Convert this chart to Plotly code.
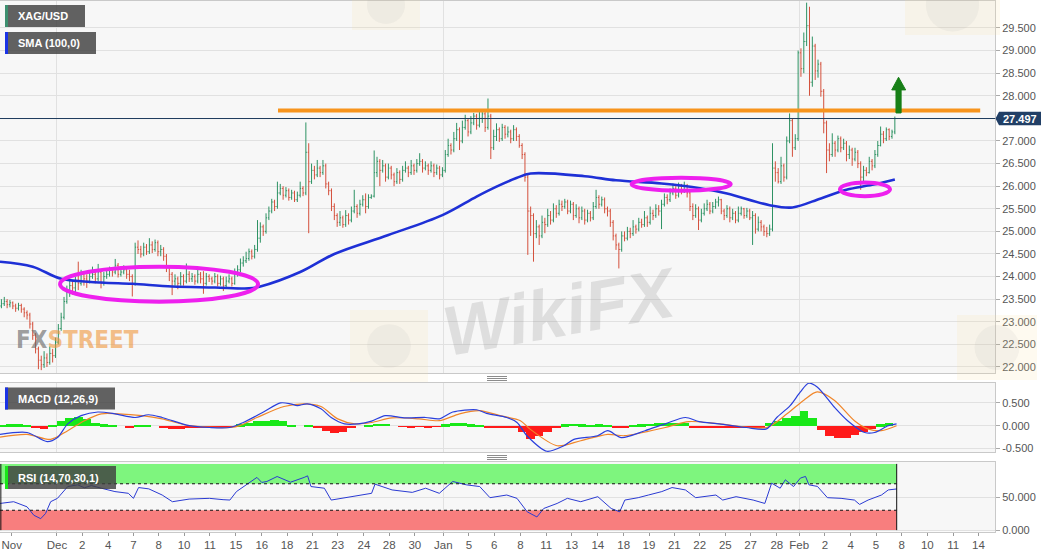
import plotly.graph_objects as go

# ---------------- data ----------------
close = [
    23.40, 23.45, 23.38, 23.42, 23.35, 23.30, 23.36, 23.28, 23.20, 23.15,
    22.95, 22.70, 22.40, 22.15, 22.05, 22.20, 22.10, 22.30, 22.25, 22.55,
    22.85, 23.10, 23.45, 23.65, 23.80, 23.75, 23.90, 23.85, 24.05, 23.95,
    23.90, 24.00, 24.05, 23.95, 24.10, 23.85, 24.00, 24.05, 24.15, 24.10,
    24.25, 24.05, 24.10, 24.15, 24.05, 24.00, 23.85, 24.65, 24.60, 24.50,
    24.65, 24.55, 24.70, 24.60, 24.75, 24.55, 24.60, 24.45, 24.20, 24.05,
    23.90, 23.95, 23.85, 24.00, 23.90, 24.05, 23.95, 24.00, 23.90, 24.05,
    23.95, 23.85, 24.00, 23.95, 23.90, 24.00, 23.85, 23.95, 23.80, 23.90,
    23.95, 23.85, 24.05, 24.15, 24.30, 24.35, 24.40, 24.55, 24.45, 24.60,
    24.85, 25.10, 25.00, 25.30, 25.45, 25.65, 25.55, 25.85, 25.95, 25.80,
    25.90, 25.75, 25.85, 25.70, 25.80, 25.95, 25.85, 26.75, 26.10, 26.35,
    26.25, 26.40, 26.30, 26.45, 26.05, 25.90, 25.55, 25.35, 25.20, 25.30,
    25.15, 25.35, 25.25, 25.45, 25.55, 25.40, 25.60, 25.70, 25.55, 25.75,
    25.78, 26.30, 26.55, 26.35, 26.45, 26.20, 26.40, 26.25, 26.10, 26.30,
    26.15, 26.35, 26.40, 26.30, 26.45, 26.35, 26.50, 26.55, 26.40, 26.45,
    26.35, 26.45, 26.30, 26.40, 26.25, 26.35, 26.70, 26.90, 26.80, 27.05,
    27.25, 27.00, 27.30, 27.45, 27.20, 27.40, 27.55, 27.35, 27.50, 27.60,
    27.30, 27.55, 26.85, 27.10, 27.25, 27.05, 27.30, 27.15, 27.20, 27.05,
    27.25, 27.10, 26.90, 26.70, 26.20, 25.45, 25.35, 24.95, 25.10, 24.90,
    25.20, 25.15, 25.35, 25.25, 25.50, 25.40, 25.60, 25.55, 25.65, 25.45,
    25.60, 25.35, 25.50, 25.30, 25.45, 25.25, 25.40, 25.30, 25.55, 25.75,
    25.60, 25.70, 25.50, 25.45, 25.20, 24.90, 24.70, 24.60, 24.90, 24.85,
    25.00, 24.95, 25.10, 25.05, 25.20, 25.15, 25.30, 25.20, 25.40, 25.35,
    25.50, 25.45, 25.60, 25.75, 25.70, 25.85, 25.95, 25.80, 26.00, 25.90,
    26.00, 25.85, 25.55, 25.35, 25.50, 25.25, 25.40, 25.50, 25.60, 25.45,
    25.55, 25.65, 25.70, 25.45, 25.35, 25.50, 25.30, 25.40, 25.25, 25.40,
    25.50, 25.35, 25.45, 25.30, 25.35, 25.05, 25.20, 25.10, 25.00, 24.95,
    25.05, 26.40, 26.30, 26.10, 26.45, 26.20, 27.00, 27.45, 26.85, 27.05,
    28.95, 28.60, 29.20, 29.55, 28.30, 29.10, 28.55, 28.70, 28.10, 27.40,
    26.80, 26.70, 26.95, 26.80, 27.05, 26.85, 26.95, 26.70, 26.80, 26.60,
    26.75, 26.50, 26.20, 26.35, 26.30, 26.55, 26.45, 26.70, 26.90, 27.15,
    27.05, 27.25, 27.10, 27.20, 27.497,
]
high = [
    23.50, 23.55, 23.50, 23.48, 23.45, 23.40, 23.42, 23.40, 23.32, 23.25,
    23.20, 23.00, 22.75, 22.45, 22.25, 22.35, 22.30, 22.45, 22.40, 22.65,
    22.95, 23.20, 23.55, 23.80, 23.95, 23.90, 24.00, 24.33, 24.15, 24.10,
    24.05, 24.10, 24.22, 24.10, 24.28, 24.15, 24.10, 24.15, 24.22, 24.20,
    24.39, 24.30, 24.18, 24.25, 24.20, 24.15, 24.05, 24.75, 24.80, 24.68,
    24.75, 24.72, 24.85, 24.78, 24.82, 24.80, 24.70, 24.65, 24.50, 24.25,
    24.10, 24.05, 24.00, 24.10, 24.05, 24.29, 24.12, 24.08, 24.05, 24.15,
    24.10, 24.12, 24.08, 24.05, 24.00, 24.08, 24.05, 24.02, 24.00, 24.00,
    24.05, 24.00, 24.18, 24.25, 24.40, 24.45, 24.55, 24.62, 24.60, 24.70,
    25.25, 25.20, 25.15, 25.40, 25.55, 25.72, 25.70, 26.10, 26.05, 26.00,
    25.98, 25.95, 25.92, 25.90, 25.88, 26.10, 26.00, 27.41, 26.95, 26.50,
    26.45, 26.58, 26.45, 26.58, 26.50, 26.10, 25.95, 25.62, 25.40, 25.45,
    25.35, 25.47, 25.40, 25.55, 25.92, 25.60, 25.70, 25.80, 25.84, 25.82,
    25.82, 26.79, 26.65, 26.60, 26.58, 26.50, 26.50, 26.45, 26.30, 26.40,
    26.35, 26.45, 26.55, 26.45, 26.58, 26.50, 26.60, 26.73, 26.60, 26.55,
    26.50, 26.55, 26.50, 26.48, 26.45, 26.42, 26.80, 27.05, 26.95, 27.20,
    27.40, 27.30, 27.45, 27.58, 27.50, 27.55, 27.62, 27.60, 27.65, 27.68,
    27.65, 27.94, 27.60, 27.25, 27.39, 27.30, 27.38, 27.35, 27.32, 27.25,
    27.35, 27.30, 27.15, 26.95, 26.75, 26.25, 25.55, 25.40, 25.25, 25.15,
    25.35, 25.30, 25.50, 25.45, 25.62, 25.58, 25.70, 25.68, 25.72, 25.70,
    25.68, 25.65, 25.60, 25.55, 25.55, 25.50, 25.48, 25.45, 25.65, 25.92,
    25.80, 25.77, 25.75, 25.55, 25.50, 25.25, 24.95, 24.75, 25.00, 25.00,
    25.10, 25.08, 25.25, 25.15, 25.30, 25.28, 25.45, 25.35, 25.55, 25.48,
    25.60, 25.58, 25.70, 25.84, 25.82, 25.95, 26.06, 26.00, 26.08, 26.05,
    26.10, 26.05, 25.90, 25.62, 25.60, 25.55, 25.50, 25.62, 25.70, 25.65,
    25.65, 25.72, 25.77, 25.72, 25.50, 25.58, 25.55, 25.50, 25.45, 25.55,
    25.55, 25.52, 25.52, 25.50, 25.45, 25.40, 25.33, 25.25, 25.15, 25.10,
    25.15, 26.95, 26.55, 26.40, 26.65, 26.50, 27.10, 27.61, 27.50, 27.15,
    29.00, 29.05, 29.40, 30.06, 29.97, 29.31, 29.15, 28.80, 28.75, 28.15,
    27.45, 26.95, 27.17, 27.00, 27.12, 27.10, 27.05, 27.00, 26.90, 26.85,
    26.85, 26.80, 26.55, 26.45, 26.42, 26.65, 26.60, 26.80, 27.00, 27.32,
    27.22, 27.30, 27.28, 27.25, 27.54,
]
low = [
    23.30, 23.35, 23.30, 23.32, 23.28, 23.22, 23.25, 23.20, 23.10, 23.05,
    22.85, 22.60, 22.30, 21.95, 21.93, 21.98, 22.00, 22.05, 22.10, 22.20,
    22.50, 22.80, 23.05, 23.40, 23.55, 23.60, 23.65, 23.70, 23.80, 23.80,
    23.75, 23.85, 23.95, 23.85, 23.90, 23.74, 23.80, 23.95, 24.00, 24.00,
    24.05, 23.98, 24.00, 24.05, 23.95, 23.90, 23.56, 23.80, 24.50, 24.42,
    24.45, 24.48, 24.50, 24.52, 24.55, 24.45, 24.45, 24.35, 24.10, 23.90,
    23.59, 23.80, 23.72, 23.80, 23.80, 23.85, 23.88, 23.88, 23.82, 23.85,
    23.85, 23.62, 23.80, 23.88, 23.82, 23.85, 23.78, 23.80, 23.68, 23.75,
    23.85, 23.78, 23.82, 24.00, 24.10, 24.22, 24.30, 24.35, 24.38, 24.40,
    24.55, 24.75, 24.90, 24.95, 25.25, 25.40, 25.45, 25.50, 25.80, 25.70,
    25.75, 25.68, 25.70, 25.65, 25.65, 25.75, 25.78, 25.80, 24.96, 26.05,
    26.15, 26.20, 26.20, 26.25, 25.95, 25.80, 25.45, 25.25, 25.10, 25.12,
    25.08, 25.10, 25.15, 25.20, 25.40, 25.30, 25.35, 25.55, 25.40, 25.50,
    25.72, 25.75, 26.20, 26.00, 26.30, 26.10, 26.15, 26.15, 26.00, 26.05,
    26.05, 26.10, 26.30, 26.20, 26.25, 26.25, 26.30, 26.45, 26.30, 26.35,
    26.25, 26.30, 26.20, 26.25, 26.15, 26.20, 26.30, 26.65, 26.70, 26.75,
    27.00, 26.80, 26.95, 27.25, 27.10, 27.15, 27.35, 27.25, 27.30, 27.40,
    27.20, 27.25, 26.60, 26.80, 27.00, 26.98, 27.00, 27.05, 27.08, 26.95,
    27.00, 27.00, 26.85, 26.60, 26.10, 24.48, 24.90, 24.33, 24.85, 24.70,
    24.85, 24.96, 25.10, 25.15, 25.20, 25.30, 25.35, 25.45, 25.50, 25.38,
    25.40, 25.25, 25.30, 25.18, 25.25, 25.15, 25.20, 25.22, 25.25, 25.50,
    25.50, 25.55, 25.40, 25.33, 25.10, 24.80, 24.59, 24.18, 24.55, 24.78,
    24.80, 24.85, 24.90, 24.95, 25.00, 25.08, 25.10, 25.10, 25.15, 25.25,
    25.30, 25.35, 25.05, 25.55, 25.60, 25.65, 25.80, 25.72, 25.75, 25.82,
    25.85, 25.75, 25.45, 25.25, 25.30, 25.03, 25.20, 25.35, 25.45, 25.38,
    25.40, 25.50, 25.55, 25.38, 25.25, 25.30, 25.20, 25.25, 25.18, 25.20,
    25.35, 25.28, 25.30, 25.25, 24.70, 24.95, 25.00, 25.00, 24.90, 24.87,
    24.90, 25.00, 26.10, 26.06, 26.05, 26.10, 26.15, 26.95, 26.65, 26.80,
    27.00, 28.42, 28.50, 29.10, 28.00, 28.20, 28.35, 28.40, 27.98, 27.17,
    26.29, 26.55, 26.65, 26.65, 26.75, 26.75, 26.80, 26.55, 26.60, 26.45,
    26.55, 26.40, 25.92, 26.10, 26.22, 26.28, 26.35, 26.40, 26.65, 26.88,
    26.95, 27.00, 27.02, 27.05, 27.15,
]
first_open = 23.35

sma_x = [-0.5, 11, 21, 35, 46, 60, 75, 87, 91, 105, 117, 136, 155, 167, 174,
         181, 186, 205, 216, 232, 246, 255, 270, 278, 288, 297, 306, 314]
sma_v = [24.33, 24.22, 23.95, 23.87, 23.84, 23.78, 23.76, 23.74, 23.78, 24.10,
         24.50, 24.92, 25.36, 25.77, 25.99, 26.18, 26.28, 26.22, 26.13, 26.06,
         25.95, 25.84, 25.58, 25.53, 25.73, 25.92, 26.03, 26.15]

macd_x = [-0.5, 9, 16.1, 19.7, 23.3, 28, 33.9, 39.9, 47, 51.7, 56.5, 66, 73.1,
          80.2, 85, 92.1, 98.1, 101.6, 104, 107.5, 112.3, 115.9, 120.6, 125.4,
          130.1, 134.9, 142, 149.1, 153.9, 158.6, 167, 170.5, 177.6, 181.2,
          184.7, 191.7, 197.7, 201.2, 209.5, 213.1, 217.9, 226.2, 233.3, 240.4,
          245.2, 252.3, 261.8, 268.9, 272.5, 277.2, 280.8, 283.7, 286.7, 292.7,
          297.4, 303.4, 306.9, 311.7, 314.6]
macd_v = [-0.19, -0.15, -0.35, -0.26, 0.04, 0.22, 0.30, 0.26, 0.18, 0.24, 0.18,
          0.0, -0.04, -0.04, 0.07, 0.30, 0.50, 0.48, 0.44, 0.48, 0.37, 0.18,
          0.04, 0.04, 0.10, 0.22, 0.17, 0.18, 0.15, 0.30, 0.35, 0.27, 0.18,
          0.07, -0.22, -0.56, -0.44, -0.30, -0.22, -0.11, -0.26, -0.11, 0.04,
          0.18, 0.09, 0.04, -0.04, -0.07, 0.18, 0.44, 0.74, 0.93, 0.85, 0.41,
          0.11, -0.15, -0.15, 0.0, 0.04]
sig_x = [-0.5, 9, 17.3, 23.3, 29.2, 35.1, 41.1, 49.4, 56.5, 66, 82.6, 89.8,
         99.3, 106.4, 112.3, 118.2, 124.2, 130.1, 137.2, 146.7, 153.9, 161,
         168.1, 175.2, 182.4, 185.7, 195.3, 203.6, 213.1, 219, 233.3, 241.6,
         252.3, 268.9, 276.1, 282, 286.7, 292.7, 299.8, 304.5, 309.3, 314.6]
sig_v = [-0.25, -0.19, -0.30, -0.11, 0.11, 0.26, 0.26, 0.22, 0.15, 0.0, -0.02,
         0.18, 0.42, 0.48, 0.42, 0.15, 0.04, 0.07, 0.17, 0.15, 0.11, 0.26, 0.33,
         0.22, 0.11, -0.07, -0.44, -0.33, -0.19, -0.22, -0.04, 0.09, 0.04,
         -0.04, 0.26, 0.56, 0.74, 0.56, 0.11, -0.07, -0.11, 0.0]
# histogram, one value every 3 bars
hist_v = [0.03, 0.04, 0.04, 0.02, -0.05, -0.07, 0.02, 0.12, 0.19, 0.20,
          0.15, 0.08, 0.04, 0.02, 0.00, -0.04, 0.02, 0.03, 0.00, -0.04,
          -0.07, -0.06, -0.03, -0.02, -0.02, -0.02, -0.01, -0.01, 0.04, 0.08,
          0.11, 0.12, 0.14, 0.12, 0.03, 0.00, 0.02, -0.03, -0.10, -0.14,
          -0.12, -0.05, 0.00, 0.03, 0.05, 0.05, 0.00, -0.01, -0.02, -0.01,
          -0.02, -0.01, 0.04, 0.07, 0.06, 0.04, 0.02, -0.03, -0.04, -0.04,
          -0.04, -0.12, -0.28, -0.22, -0.12, -0.03, 0.04, 0.05, 0.04, 0.03,
          0.04, 0.02, -0.04, -0.04, 0.02, 0.04, 0.05, 0.06, 0.07, 0.08,
          0.07, -0.02, -0.03, -0.03, -0.02, -0.02, -0.02, -0.02, -0.02, -0.02,
          0.08, 0.12, 0.17, 0.22, 0.33, 0.18, -0.08, -0.22, -0.26, -0.25,
          -0.20, -0.13, -0.06, 0.04, 0.07]
hist_step = 3

rsi_x = [-0.5, 4.3, 9, 11.4, 13.8, 15.5, 17.3, 19.7, 23.3, 26.8, 29.2, 31.6,
         35.1, 39.9, 44.6, 46.4, 48.2, 51.8, 56.5, 60.1, 66, 73.1, 77.9, 80.3,
         82.6, 86.2, 89.8, 91.5, 93.3, 96.9, 101.6, 106.4, 107.6, 108.8, 113.5,
         115.9, 123, 130.1, 131.3, 137.3, 144.4, 149.1, 153.9, 158.6, 163.4,
         168.1, 171.7, 177.6, 181.2, 184.8, 188.2, 190.6, 195.3, 198.9, 203.6,
         209.6, 214.3, 217.3, 219.1, 223.8, 227.4, 232.1, 235.7, 240.4, 244,
         251.1, 253.5, 258.2, 264.2, 268.3, 270.7, 273.7, 275.5, 278.4, 280.8,
         282.6, 283.8, 286.8, 290.3, 295.1, 299.8, 301.6, 304.6, 309.3, 311.7,
         314.7]
rsi_v = [40.3, 42.9, 35.2, 22.4, 17.3, 25, 42.9, 48, 65.8, 68.4, 64, 67.3,
         63.3, 58.2, 55.6, 48, 64.3, 62.3, 53, 42.9, 46.9, 48, 46, 45.4, 58.2,
         68.4, 79.6, 72, 73.5, 81, 72.4, 79.6, 82, 65.8, 63.3, 45.4, 50.5, 55.6,
         69.4, 60.7, 57, 63.3, 55.6, 73.5, 68.4, 65.8, 49, 53, 48, 27.6, 19.9,
         32.7, 40.3, 48, 42.9, 50.5, 32.7, 27.6, 45.4, 49, 53, 58.2, 64.3, 60.7,
         49, 53, 45.4, 50.5, 45.4, 40.3, 70.9, 63.3, 76, 65.8, 78.6, 81.1, 68.4,
         66, 49, 48, 45.4, 38.8, 45.4, 53, 60.7, 62.2]

tick_pos = [3.6, 19.5, 28.4, 37.5, 46.4, 55.3, 64.2, 73.3, 82.4, 91.5, 100.4,
            109.3, 118.2, 127.4, 136.3, 145.3, 155.3, 164.3, 173.2, 182.4,
            191.5, 200.4, 209.6, 218.7, 227.6, 236.5, 245.4, 254.4, 263.3,
            272.5, 280.4, 289.4, 298.5, 307.4, 316.4, 325.4, 334.5, 343.4]
tick_text = ["Nov", "Dec", "2", "4", "7", "8", "10", "11", "15", "16", "18",
             "21", "23", "24", "28", "30", "Jan", "5", "6", "8", "11", "13",
             "14", "18", "19", "21", "22", "25", "27", "28", "Feb", "2", "4",
             "5", "8", "10", "11", "14"]
month_pos = [19.5, 155.3, 280.4]

price_ticks = [22.0, 22.5, 23.0, 23.5, 24.0, 24.5, 25.0, 25.5, 26.0, 26.5,
               27.0, 27.5, 28.0, 28.5, 29.0, 29.5]
macd_ticks = [-0.5, 0.0, 0.5]
rsi_ticks = [0, 50]

resistance_level = 27.675
last_price = 27.497
rsi_upper, rsi_lower, rsi_top = 70, 30, 100

# ---------------- derived series ----------------
bar_x = list(range(len(close)))
open_ = [first_open] + close[:-1]
hist_x = [k * hist_step for k in range(len(hist_v))]
hist_col = ["#18e818" if v >= 0 else "#ff1a1a" for v in hist_v]

# ---------------- layout helpers ----------------
W, H = 1060, 555
PLOT_W = 995
FONT = "Liberation Sans, Arial, sans-serif"
GRID = "#e1e1e1"
BORDER = "#c9c9c9"
XR = [-0.5, 349.2]
BAND_END = 314.65


def PX(x):
    return x / PLOT_W


def PY(y):
    return 1 - y / H


UP, DN = "#2d9263", "#d4503c"

fig = go.Figure()
fig.add_trace(go.Ohlc(
    x=bar_x, open=open_, high=high, low=low, close=close,
    increasing=dict(line=dict(color=UP, width=1)),
    decreasing=dict(line=dict(color=DN, width=1)),
    tickwidth=0.35, xaxis="x", yaxis="y", hoverinfo="skip", showlegend=False))
fig.add_trace(go.Scatter(
    x=sma_x, y=sma_v, mode="lines", xaxis="x", yaxis="y",
    line=dict(color="#1e30d6", width=2.6, shape="spline", smoothing=1.0),
    hoverinfo="skip", showlegend=False))

fig.add_trace(go.Bar(
    x=hist_x, y=hist_v, width=hist_step, marker=dict(color=hist_col, line=dict(width=0)),
    xaxis="x2", yaxis="y2", hoverinfo="skip", showlegend=False))
fig.add_trace(go.Scatter(
    x=sig_x, y=sig_v, mode="lines", xaxis="x2", yaxis="y2",
    line=dict(color="#f0862a", width=1.2, shape="spline", smoothing=0.8),
    hoverinfo="skip", showlegend=False))
fig.add_trace(go.Scatter(
    x=macd_x, y=macd_v, mode="lines", xaxis="x2", yaxis="y2",
    line=dict(color="#2a3fdc", width=1.2, shape="spline", smoothing=0.8),
    hoverinfo="skip", showlegend=False))

fig.add_trace(go.Scatter(
    x=rsi_x, y=rsi_v, mode="lines", xaxis="x3", yaxis="y3",
    line=dict(color="#2a3ad2", width=1),
    hoverinfo="skip", showlegend=False))

common_x = dict(range=XR, showline=True, mirror=True, linecolor=BORDER,
                linewidth=1, zeroline=False, fixedrange=True)
common_y = dict(side="right", showline=True, mirror=True, linecolor=BORDER,
                linewidth=1, zeroline=False, fixedrange=True, tickmode="array",
                ticks="outside", ticklen=4, tickcolor="#aaaaaa",
                showgrid=True, gridcolor=GRID,
                tickfont=dict(family=FONT, size=11, color="#555555"))

shapes = []
# faint WikiFX logo watermarks (paper coordinates)
for (lx0, lx1, ly0, ly1) in [(350, 428, 310, 382), (957, 1037, 315, 380),
                             (352, 420, -20, 30), (905, 1000, -25, 35)]:
    shapes.append(dict(type="rect", xref="paper", yref="paper",
                       x0=PX(lx0), x1=PX(lx1), y0=PY(ly1), y1=PY(ly0),
                       fillcolor="rgba(246,222,160,0.16)", line=dict(width=0),
                       layer="above"))
    cx, cy = (lx0 + lx1) / 2, (ly0 + ly1) / 2
    r = (lx1 - lx0) * 0.28
    shapes.append(dict(type="circle", xref="paper", yref="paper",
                       x0=PX(cx - r), x1=PX(cx + r), y0=PY(cy + r), y1=PY(cy - r),
                       fillcolor="rgba(150,150,150,0.09)", line=dict(width=0),
                       layer="above"))

# RSI zones
shapes.append(dict(type="rect", xref="x3", yref="y3", x0=XR[0], x1=BAND_END,
                   y0=rsi_upper, y1=rsi_top, fillcolor="#7ef57e",
                   line=dict(width=0), layer="between"))
shapes.append(dict(type="rect", xref="x3", yref="y3", x0=XR[0], x1=BAND_END,
                   y0=0, y1=rsi_lower, fillcolor="#f87e7e",
                   line=dict(width=0), layer="between"))
for lvl in (rsi_upper, rsi_lower):
    shapes.append(dict(type="line", xref="x3", yref="y3", x0=XR[0], x1=BAND_END,
                       y0=lvl, y1=lvl, line=dict(color="#111111", width=1, dash="dot")))
for xv in (XR[0] + 0.3, BAND_END):
    shapes.append(dict(type="line", xref="x3", yref="y3", x0=xv, x1=xv,
                       y0=0, y1=rsi_top, line=dict(color="#111111", width=1)))

# last price line
shapes.append(dict(type="line", xref="x domain", yref="y", x0=0, x1=1,
                   y0=last_price, y1=last_price, line=dict(color="#1d3a5c", width=1)))
# resistance
shapes.append(dict(type="line", xref="x", yref="y", x0=97.2, x1=344,
                   y0=resistance_level, y1=resistance_level,
                   line=dict(color="#f7941d", width=4)))
# ellipses
MAG = "#ee20ee"
for (x0, x1, y0, y1) in [(20.6, 90.2, 23.445, 24.219),
                         (221.5, 256.3, 25.90, 26.188),
                         (294.7, 312.3, 25.78, 26.08)]:
    shapes.append(dict(type="circle", xref="x", yref="y", x0=x0, x1=x1,
                       y0=y0, y1=y1, line=dict(color=MAG, width=4)))
# green arrow
shapes.append(dict(type="path", xref="x", yref="y",
                   path="M 314.4,27.62 L 316.2,27.62 L 316.2,28.13 L 317.8,28.13 "
                        "L 315.3,28.41 L 312.9,28.13 L 314.4,28.13 Z",
                   fillcolor="#177f17", line=dict(color="#177f17", width=1)))
# price tag
shapes.append(dict(type="path", xref="paper", yref="y",
                   path=f"M {PX(995.5)},{last_price} L {PX(999)},{last_price + 0.15} "
                        f"L {PX(1041)},{last_price + 0.15} L {PX(1041)},{last_price - 0.15} "
                        f"L {PX(999)},{last_price - 0.15} Z",
                   fillcolor="#213f66", line=dict(width=0)))

# legend boxes
boxes = [("XAG/USD", 5, 85, 5, 27, "#3d8f6f"),
         ("SMA (100,0)", 5, 96, 32, 54, "#1a33e6"),
         ("MACD (12,26,9)", 5, 115, 387.5, 409.5, "#1a33e6"),
         ("RSI (14,70,30,1)", 5, 116, 466, 489, "#19e619")]
annotations = []
for (txt, bx0, bx1, by0, by1, col) in boxes:
    shapes.append(dict(type="rect", xref="paper", yref="paper",
                       x0=PX(bx0), x1=PX(bx1), y0=PY(by1), y1=PY(by0),
                       fillcolor="rgba(64,64,64,0.82)", line=dict(width=0)))
    shapes.append(dict(type="rect", xref="paper", yref="paper",
                       x0=PX(bx0), x1=PX(bx0 + 3), y0=PY(by1), y1=PY(by0),
                       fillcolor=col, line=dict(width=0)))
    annotations.append(dict(text=f"<b>{txt}</b>", xref="paper", yref="paper",
                            x=PX(16), y=PY((by0 + by1) / 2), xanchor="left",
                            yanchor="middle", showarrow=False,
                            font=dict(family=FONT, size=11, color="white")))

# panel separators
for base in (376.5, 455.5):
    for k in range(3):
        yy = base + 2 * k
        shapes.append(dict(type="line", xref="paper", yref="paper",
                           x0=PX(487), x1=PX(507), y0=PY(yy), y1=PY(yy),
                           line=dict(color="#6e6e6e", width=0.8)))

annotations.append(dict(text=f"<b>{last_price:.3f}</b>", xref="paper", yref="y",
                        x=PX(1020), y=last_price, xanchor="center", yanchor="middle",
                        showarrow=False, font=dict(family=FONT, size=11, color="white")))
# watermarks
annotations.append(dict(text="<b><i>WikiFX</i></b>", xref="paper", yref="paper",
                        x=PX(560), y=PY(312), showarrow=False, textangle=-10,
                        font=dict(family="Liberation Sans, Arial", size=70,
                                  color="rgba(125,125,125,0.2)"),
                        xanchor="center", yanchor="middle"))
annotations.append(dict(text='<b><span style="color:rgba(105,105,105,0.65)">FX</span>'
                             '<span style="color:rgba(240,150,60,0.6)">STREET</span></b>',
                        xref="paper", yref="paper", x=PX(14), y=PY(340),
                        xanchor="left", yanchor="middle", showarrow=False,
                        font=dict(family="Liberation Sans Narrow, DejaVu Sans Condensed, sans-serif",
                                  size=24)))

fig.update_layout(
    width=W, height=H, template="none",
    margin=dict(l=0, r=W - PLOT_W, t=0, b=0),
    paper_bgcolor="white", plot_bgcolor="#f7f7f7",
    showlegend=False, bargap=0, hovermode=False,
    xaxis=dict(**common_x, domain=[0, 1], anchor="y", tickmode="array",
               tickvals=month_pos, showticklabels=False, ticks="",
               showgrid=True, gridcolor=GRID, rangeslider=dict(visible=False)),
    xaxis2=dict(**common_x, domain=[0, 1], anchor="y2", tickmode="array",
                tickvals=month_pos, showticklabels=False, ticks="",
                showgrid=True, gridcolor=GRID),
    xaxis3=dict(**common_x, domain=[0, 1], anchor="y3", tickmode="array",
                tickvals=tick_pos, ticktext=tick_text, ticks="outside", ticklen=3,
                tickcolor="#999999", showgrid=False, ticklabeloverflow="allow",
                tickfont=dict(family=FONT, size=11.5, color="#555555"),
                minor=dict(tickmode="array", tickvals=month_pos, showgrid=True,
                           gridcolor=GRID, ticks="")),
    yaxis=dict(**common_y, domain=[PY(373.4), PY(1)], anchor="x",
               range=[21.858, 30.097], tickvals=price_ticks,
               ticktext=[f"{v:.3f}" for v in price_ticks]),
    yaxis2=dict(**common_y, domain=[PY(452), PY(382.5)], anchor="x2",
                range=[-0.577, 0.947], tickvals=macd_ticks,
                ticktext=[f"{v:.3f}" for v in macd_ticks]),
    yaxis3=dict(**common_y, domain=[PY(531.5), PY(462)], anchor="x3",
                range=[-2.1, 102.9], tickvals=rsi_ticks,
                ticktext=[f"{v:.3f}" for v in rsi_ticks]),
    shapes=shapes, annotations=annotations,
)

fig.write_html("out.html", config={"displayModeBar": False},
               post_script="document.body.style.margin='0px';")
